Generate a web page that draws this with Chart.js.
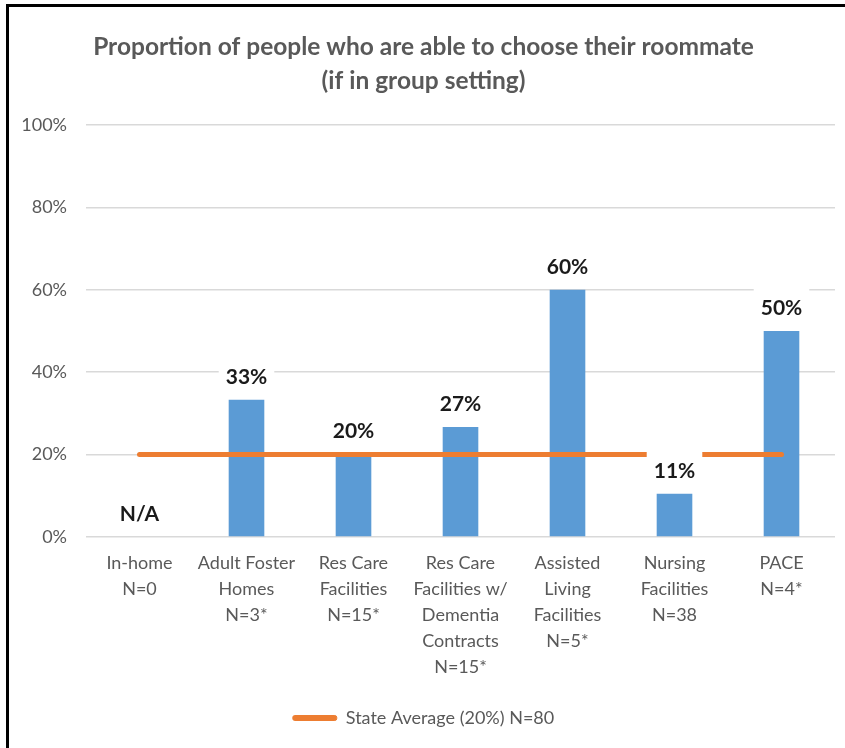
<!DOCTYPE html>
<html>
<head>
<meta charset="utf-8">
<script src="https://cdn.jsdelivr.net/npm/chart.js@4"></script>
<style>
  html, body { margin: 0; padding: 0; background: #fff; }
  #frame { position: absolute; left: 6px; top: 4px; width: 839px; height: 744px;
           border-left: 3px solid #000; border-top: 3px solid #000; box-sizing: border-box; }
  #wrap { position: absolute; left: 3px; top: 3px; width: 836px; height: 741px; }
</style>
</head>
<body>
<div id="frame"><div id="wrap"><canvas id="c"></canvas></div></div>
<script>
const categories = [
  ['In-home', 'N=0'],
  ['Adult Foster', 'Homes', 'N=3*'],
  ['Res Care', 'Facilities', 'N=15*'],
  ['Res Care', 'Facilities w/', 'Dementia', 'Contracts', 'N=15*'],
  ['Assisted', 'Living', 'Facilities', 'N=5*'],
  ['Nursing', 'Facilities', 'N=38'],
  ['PACE', 'N=4*']
];
const proportions = [null, 33.3, 20.0, 26.7, 60.0, 10.5, 50.0];
const stateAverage = [20, 20, 20, 20, 20, 20, 20];
const yTicks = [0, 20, 40, 60, 80, 100];
const titleLines = ['Proportion of people who are able to choose their roommate', '(if in group setting)'];
const legendLabel = 'State Average (20%) N=80';

const FONT = 'Lato, "Open Sans", sans-serif';
const GREY = '#595959';

const dataLabelPlugin = {
  id: 'dataLabels',
  afterDatasetsDraw(chart) {
    const ctx = chart.ctx;
    const x = chart.scales.x, y = chart.scales.y;
    ctx.save();
    ctx.font = 'bold 21px ' + FONT;
    ctx.textAlign = 'center';
    ctx.textBaseline = 'middle';
    proportions.forEach((v, i) => {
      const txt = v === null ? 'N/A' : Math.round(v) + '%';
      const cx = x.getPixelForValue(i);
      const top = y.getPixelForValue(v === null ? 0 : v);
      const cy = top - 24;
      const w = ctx.measureText(txt).width + 14;
      ctx.fillStyle = '#ffffff';
      ctx.fillRect(cx - w / 2, cy - 20, w, 40);
      ctx.fillStyle = '#1a1a1a';
      ctx.fillText(txt, cx, cy + 1);
    });
    ctx.restore();
  }
};

new Chart(document.getElementById('c'), {
  type: 'bar',
  data: {
    labels: categories,
    datasets: [
      {
        type: 'bar',
        label: 'Proportion',
        data: proportions,
        backgroundColor: '#5B9BD5',
        borderWidth: 0,
        barPercentage: 1,
        categoryPercentage: 0.333,
        order: 2
      },
      {
        type: 'line',
        label: legendLabel,
        data: stateAverage,
        borderColor: '#ED7D31',
        backgroundColor: '#ED7D31',
        borderWidth: 5,
        borderCapStyle: 'round',
        pointRadius: 0,
        pointHoverRadius: 0,
        fill: false,
        order: 1
      }
    ]
  },
  options: {
    responsive: true,
    maintainAspectRatio: false,
    animation: false,
    layout: { padding: { left: 0, right: 13, top: 0, bottom: 14 } },
    plugins: {
      tooltip: { enabled: false },
      title: {
        display: true,
        text: titleLines,
        color: GREY,
        font: { family: FONT, size: 24.5, weight: 'bold', lineHeight: 34 / 24.5 },
        padding: { top: 20, bottom: 27 }
      },
      legend: {
        display: true,
        position: 'bottom',
        labels: {
          color: GREY,
          font: { family: FONT, size: 18 },
          padding: 10,
          boxWidth: 44,
          boxHeight: 5,
          generateLabels: (chart) => [{
            text: legendLabel,
            fillStyle: '#ED7D31',
            strokeStyle: '#ED7D31',
            lineWidth: 1,
            hidden: false,
            datasetIndex: 1,
            borderRadius: 2,
            fontColor: GREY
          }]
        }
      }
    },
    scales: {
      x: {
        grid: { display: false, drawTicks: false },
        border: { display: false },
        ticks: {
          color: GREY,
          font: { family: FONT, size: 18, lineHeight: 26 / 18 },
          padding: 13,
          maxRotation: 0,
          autoSkip: false
        },
        afterFit(scale) { scale.height = 162; }
      },
      y: {
        min: 0,
        max: 100,
        afterBuildTicks(scale) { scale.ticks = yTicks.map(v => ({ value: v })); },
        grid: { color: '#D9D9D9', lineWidth: 1.5, drawTicks: false },
        border: { display: false },
        ticks: {
          color: GREY,
          font: { family: FONT, size: 18 },
          padding: 19,
          callback: (v) => v + '%'
        },
        afterFit(scale) { scale.width = 74; }
      }
    }
  },
  plugins: [dataLabelPlugin]
});
</script>
</body>
</html>
